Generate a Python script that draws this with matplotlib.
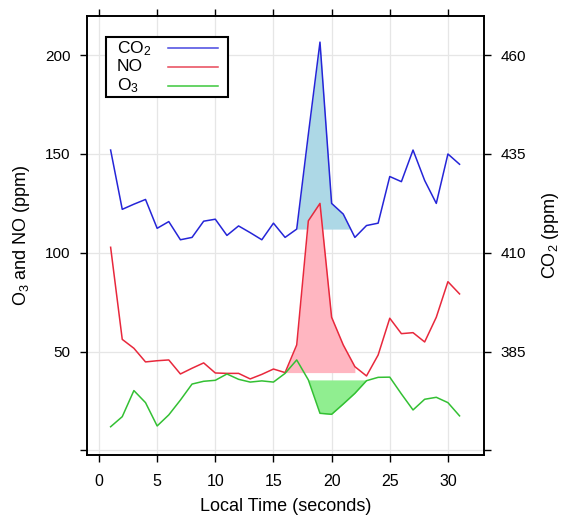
import numpy as np
import matplotlib
matplotlib.use("Agg")
import matplotlib.pyplot as plt
from matplotlib.patches import Rectangle

plt.rcParams['font.family'] = ['Liberation Sans', 'DejaVu Sans']
plt.rcParams['mathtext.fontset'] = 'custom'
plt.rcParams['mathtext.rm'] = 'Liberation Sans'
plt.rcParams['mathtext.it'] = 'Liberation Sans'

# data
t = np.arange(1, 32)
co2 = [436.0, 421.0, 422.3, 423.5, 416.2, 417.9, 413.3, 413.9, 418.0, 418.5,
       414.4, 416.8, 415.1, 413.3, 417.5, 413.9, 416.0, 440.0, 463.3, 422.5,
       419.8, 413.9, 416.9, 417.5, 429.3, 428.0, 436.0, 428.3, 422.5, 435.0,
       432.4]
no = [102.8, 56.2, 51.7, 44.8, 45.4, 45.8, 38.7, 41.6, 44.3, 39.2,
      39.0, 39.0, 36.2, 38.5, 41.2, 39.4, 53.4, 116.2, 125.0, 67.4,
      53.4, 42.4, 37.7, 48.3, 66.9, 59.1, 59.6, 54.9, 67.4, 85.4,
      79.2]
o3 = [12.0, 17.1, 30.3, 24.2, 12.4, 18.0, 25.5, 33.6, 35.0, 35.5,
      38.7, 36.0, 34.6, 35.2, 34.6, 39.0, 45.8, 35.7, 18.8, 18.3,
      23.5, 28.9, 35.3, 37.0, 37.1, 28.6, 20.5, 25.9, 26.9, 24.2,
      17.5]
left_ticks = [0, 50, 100, 150, 200]
left_labels = ['', '50', '100', '150', '200']
right_ticks = [360, 385, 410, 435, 460]
right_labels = ['', '385', '410', '435', '460']
legend_names = ['CO$_2$', 'NO', 'O$_3$']
legend_cols = ['#4848e0', '#e84858', '#3cc83c']

co2 = np.array(co2)
no = np.array(no)
o3 = np.array(o3)

fig = plt.figure(figsize=(5.61, 5.17), dpi=100)
ax2 = fig.add_axes([0.1551, 0.1199, 0.7076, 0.8491])  # CO2, right axis
ax = ax2.twinx()  # O3 / NO, drawn on top
ax.yaxis.tick_left()
ax.yaxis.set_label_position('left')
ax2.yaxis.tick_right()
ax2.yaxis.set_label_position('right')

ylo, yhi = -2.3, 219.8
ax.set_xlim(-1.03, 33.1)
ax.set_ylim(ylo, yhi)
ax2.set_ylim(360 + ylo / 2, 360 + yhi / 2)

ax2.set_xticks(range(0, 31, 5))
ax.set_yticks(left_ticks)
ax.set_yticklabels(left_labels)
ax2.set_yticks(right_ticks)
ax2.set_yticklabels(right_labels)
ax2.grid(True, axis='x', color='#e6e6e6', linewidth=0.9)
for y in left_ticks:
    ax2.axhline(360 + y / 2, color='#e6e6e6', linewidth=0.9, zorder=0.5)
ax2.set_axisbelow(True)
ax2.tick_params(axis='x', which='both', top=True, direction='out', length=5,
                labelsize=11.5, width=1, pad=9)
ax.tick_params(axis='y', direction='out', length=5, labelsize=11, width=1,
               pad=7)
ax2.tick_params(axis='y', direction='out', length=5, labelsize=11, width=1,
                pad=7)
for a in (ax, ax2):
    for s in a.spines.values():
        s.set_linewidth(1.2)

# shaded peaks
m = (t >= 17) & (t <= 22)
base = co2[t == 17][0]
ax2.fill_between(t[m], co2[m], base, where=co2[m] >= base, interpolate=True,
                 color='#add8e6', lw=0)
ax2.plot(t, co2, color='#2525d8', lw=1.1)

m = (t >= 16) & (t <= 22)
ax.fill_between(t[m], no[m], no[t == 16][0], color='#ffb6c1', lw=0)
m = (t >= 18) & (t <= 23)
ax.fill_between(t[m], o3[m], o3[t == 18][0], color='#90ee90', lw=0)
ax.plot(t, no, color='#e8283c', lw=1.1)
ax.plot(t, o3, color='#33c033', lw=1.1)

ax2.set_xlabel('Local Time (seconds)', fontsize=13, labelpad=6)
ax.set_ylabel('O$_3$ and NO (ppm)', fontsize=13, labelpad=9)
ax2.set_ylabel('CO$_2$ (ppm)', fontsize=13, labelpad=10)

# legend box, text on the left and line samples on the right
ax.add_patch(Rectangle((0.048, 0.8155), 0.307, 0.1367, transform=ax.transAxes,
                       facecolor='white', edgecolor='black', lw=1.5,
                       zorder=5))
rows = [0.9264, 0.8845, 0.8417]
for name, col, yy in zip(legend_names, legend_cols, rows):
    ax.text(0.0756, yy, name, transform=ax.transAxes, fontsize=12.5,
            va='center', ha='left', zorder=6)
    ax.plot([0.204, 0.330], [yy, yy], transform=ax.transAxes, color=col,
            lw=1.1, zorder=6)

plt.savefig('out.png', dpi=100)
